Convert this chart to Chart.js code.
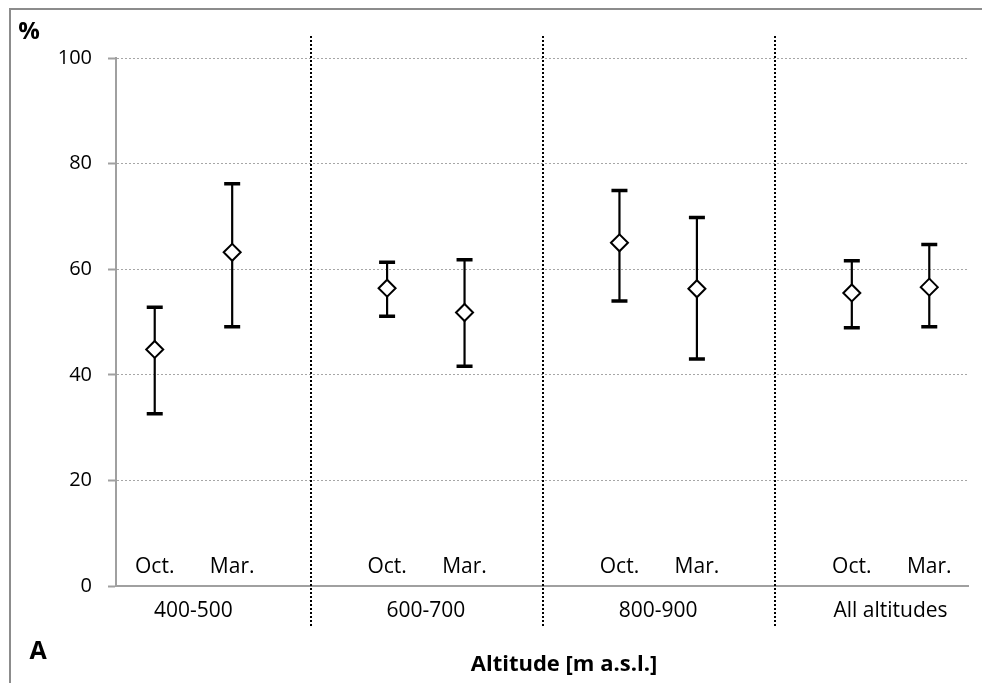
<!DOCTYPE html>
<html>
<head>
<meta charset="utf-8">
<script src="https://cdn.jsdelivr.net/npm/chart.js@4"></script>
<style>
  html, body { margin: 0; padding: 0; background: #fff; }
  #wrap { position: relative; width: 982px; height: 683px; }
</style>
</head>
<body>
<div id="wrap"><canvas id="myChart" width="982" height="683"></canvas></div>
<script>
const groups = ['400-500', '600-700', '800-900', 'All altitudes'];
const seasons = ['Oct.', 'Mar.'];
const yTicks = [0, 20, 40, 60, 80, 100];

const octMean = [44.8, 56.4, 65.0, 55.5];
const octLow  = [32.6, 51.1, 54.0, 48.9];
const octHigh = [52.8, 61.3, 74.9, 61.6];

const marMean = [63.2, 51.8, 56.3, 56.6];
const marLow  = [49.1, 41.6, 43.0, 49.1];
const marHigh = [76.2, 61.8, 69.8, 64.7];

// 3 slots per group (Oct, Mar, gap), no gap after the last one
let labels = [];
let oct = [], octL = [], octH = [];
let mar = [], marL = [], marH = [];
groups.forEach((g, i) => {
  labels.push(seasons[0], seasons[1]);
  oct.push(octMean[i], null); octL.push(octLow[i], null); octH.push(octHigh[i], null);
  mar.push(null, marMean[i]); marL.push(null, marLow[i]); marH.push(null, marHigh[i]);
  if (i < groups.length - 1) {
    labels.push('');
    oct.push(null); octL.push(null); octH.push(null);
    mar.push(null); marL.push(null); marH.push(null);
  }
});

const FONT = '"Open Sans", "Noto Sans", sans-serif';

const errorBars = {
  id: 'errorBars',
  beforeDatasetsDraw(chart) {
    const ctx = chart.ctx;
    const yS = chart.scales.y;
    chart.data.datasets.forEach((ds, di) => {
      const meta = chart.getDatasetMeta(di);
      meta.data.forEach((pt, j) => {
        if (ds.low[j] == null) return;
        const x = pt.x;
        const yl = yS.getPixelForValue(ds.low[j]);
        const yh = yS.getPixelForValue(ds.high[j]);
        ctx.save();
        ctx.strokeStyle = '#000';
        ctx.lineWidth = 2.2;
        ctx.beginPath();
        ctx.moveTo(x, yl); ctx.lineTo(x, yh);
        ctx.stroke();
        ctx.lineWidth = 3.5;
        ctx.beginPath();
        ctx.moveTo(x - 8, yl); ctx.lineTo(x + 8, yl);
        ctx.moveTo(x - 8, yh); ctx.lineTo(x + 8, yh);
        ctx.stroke();
        ctx.restore();
      });
    });
  }
};

const extras = {
  id: 'extras',
  afterDraw(chart) {
    const ctx = chart.ctx;
    const xS = chart.scales.x;
    const area = chart.chartArea;
    ctx.save();
    // group separators
    ctx.strokeStyle = '#000';
    ctx.lineWidth = 2;
    ctx.setLineDash([2, 2]);
    labels.forEach((l, i) => {
      if (l !== '') return;
      const x = Math.round(xS.getPixelForValue(i)) + 1;
      ctx.beginPath();
      ctx.moveTo(x, 36); ctx.lineTo(x, 628);
      ctx.stroke();
    });
    ctx.setLineDash([]);
    // season labels inside plot, group labels below
    ctx.fillStyle = '#000';
    ctx.textAlign = 'center';
    ctx.textBaseline = 'middle';
    ctx.font = '21px ' + FONT;
    labels.forEach((l, i) => {
      if (l === '') return;
      ctx.fillText(l, xS.getPixelForValue(i), area.bottom - 19);
    });
    groups.forEach((g, i) => {
      const x = (xS.getPixelForValue(i * 3) + xS.getPixelForValue(i * 3 + 1)) / 2;
      ctx.fillText(g, x, area.bottom + 25);
    });
    ctx.font = 'bold 22px ' + FONT;
    ctx.fillText('Altitude [m a.s.l.]', 564, 665);
    ctx.font = 'bold 25px ' + FONT;
    ctx.fillText('A', 38, 652);
    ctx.font = 'bold 24px ' + FONT;
    ctx.fillText('%', 29, 32);
    // frame (top and left only)
    ctx.strokeStyle = '#8c8c8c';
    ctx.lineWidth = 2;
    ctx.beginPath();
    ctx.moveTo(10, 683); ctx.lineTo(10, 9); ctx.lineTo(982, 9);
    ctx.stroke();
    ctx.restore();
  }
};

const pointStyle = {
  showLine: false,
  pointStyle: 'rectRot',
  pointRadius: 8.5,
  pointHoverRadius: 8.5,
  pointBackgroundColor: '#fff',
  pointBorderColor: '#000',
  pointBorderWidth: 2,
  borderColor: '#000',
  backgroundColor: '#fff'
};

const ctx = document.getElementById('myChart').getContext('2d');
const myChart = new Chart(ctx, {
  type: 'line',
  data: {
    labels: labels,
    datasets: [
      Object.assign({ label: 'Oct.', data: oct, low: octL, high: octH }, pointStyle),
      Object.assign({ label: 'Mar.', data: mar, low: marL, high: marH }, pointStyle)
    ]
  },
  options: {
    responsive: false,
    animation: false,
    layout: { padding: { left: 10, top: 58, right: 14, bottom: 0 } },
    plugins: { legend: { display: false }, tooltip: { enabled: false } },
    scales: {
      x: {
        type: 'category',
        offset: true,
        ticks: { display: false },
        grid: { display: false },
        border: { display: true, color: '#a0a0a0', width: 2 },
        afterFit(scale) { scale.height = 97; }
      },
      y: {
        min: 0,
        max: 100,
        afterBuildTicks(scale) { scale.ticks = yTicks.map(v => ({ value: v })); },
        ticks: {
          color: '#000',
          padding: 16,
          font: { family: FONT, size: 20 }
        },
        grid: {
          color: c => c.tick && c.tick.value === 0 ? 'rgba(0,0,0,0)' : '#a6a6a6',
          lineWidth: 1,
          tickLength: 8,
          tickColor: '#a0a0a0',
          tickWidth: 2
        },
        border: { display: true, color: '#a0a0a0', width: 2, dash: [2, 2] },
        afterFit(scale) { scale.width = 106; }
      }
    }
  },
  plugins: [errorBars, extras]
});
</script>
</body>
</html>
